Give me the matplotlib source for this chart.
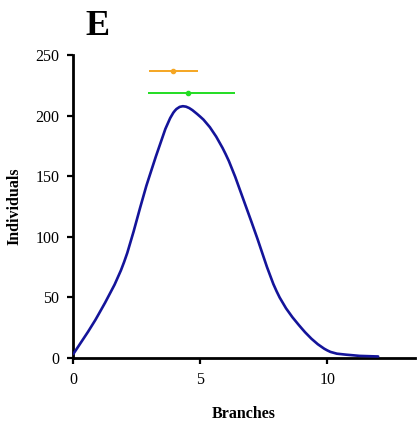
import numpy as np
import matplotlib
matplotlib.use("Agg")
import matplotlib.pyplot as plt
from matplotlib.path import Path
from matplotlib.patches import PathPatch

branches = [0, 1, 2, 3, 4, 5, 6, 7, 8, 9, 10, 11, 12]
individuals = [3, 36, 79, 150, 204, 199, 168, 113, 55, 24, 6, 2, 1]

orange_mean, orange_y, orange_lo, orange_hi = 3.93, 237, 0.96, 0.98
green_mean, green_y, green_lo, green_hi = 4.50, 219, 1.55, 1.87

plt.rcParams['font.family'] = ['Liberation Serif', 'DejaVu Serif']

fig = plt.figure(figsize=(4.2, 4.25), dpi=100)
ax = fig.add_axes([0.1745, 0.1584, 0.988 - 0.1745, 0.8706 - 0.1584])

# smooth curve through points (Catmull-Rom as cubic Bezier segments)
x = np.array(branches, float)
y = np.array(individuals, float)
pts = np.column_stack([x, y])
verts = [pts[0]]
codes = [Path.MOVETO]
n = len(pts)
for i in range(n - 1):
    p0 = pts[i - 1] if i > 0 else pts[i]
    p1 = pts[i]
    p2 = pts[i + 1]
    p3 = pts[i + 2] if i + 2 < n else pts[i + 1]
    c1 = p1 + (p2 - p0) / 6.0
    c2 = p2 - (p3 - p1) / 6.0
    verts += [c1, c2, p2]
    codes += [Path.CURVE4] * 3
path = Path(verts, codes)
ax.add_patch(PathPatch(path, facecolor='none', edgecolor='#14149a', lw=1.9,
                       capstyle='round', joinstyle='round', zorder=3))

ax.errorbar([orange_mean], [orange_y], xerr=[[orange_lo], [orange_hi]],
            fmt='o', color='#f5a623', ms=3, elinewidth=1.4, capsize=0, zorder=4)
ax.errorbar([green_mean], [green_y], xerr=[[green_lo], [green_hi]],
            fmt='o', color='#22dd22', ms=3, elinewidth=1.4, capsize=0, zorder=4)

ax.set_xlim(0, 13.45)
ax.set_ylim(0, 250)
ax.set_xticks([0, 5, 10])
ax.set_yticks([0, 50, 100, 150, 200, 250])
for s in ['top', 'right']:
    ax.spines[s].set_visible(False)
for s in ['left', 'bottom']:
    ax.spines[s].set_linewidth(2.0)
    ax.spines[s].set_color('black')
ax.tick_params(direction='out', length=4, width=1.6, labelsize=11.5, pad=6)

ax.set_xlabel('Branches', fontsize=11.5, fontweight='bold', labelpad=13)
ax.set_ylabel('Individuals', fontsize=11.5, fontweight='bold', labelpad=9)

fig.text(0.203, 1 - 35 / 425, 'E', fontsize=26, fontweight='bold', ha='left', va='baseline')

fig.savefig('out.png', dpi=100)
